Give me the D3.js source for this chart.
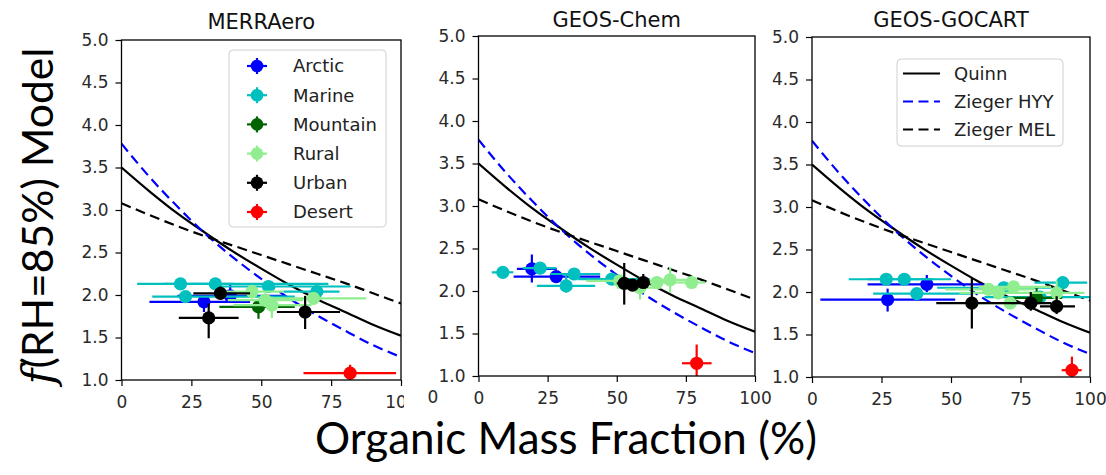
<!DOCTYPE html>
<html>
<head>
<meta charset="utf-8">
<script src="https://cdn.jsdelivr.net/npm/d3@7"></script>
<style>
  body { margin: 0; background: #fff; }
  svg { display: block; font-family: "DejaVu Sans", sans-serif; }
</style>
</head>
<body>
<svg id="chart" width="1106" height="475"></svg>
<script>
// ---- data ----
var categories = ["Arctic", "Marine", "Mountain", "Rural", "Urban", "Desert"];
var catColors = ["#0000ff", "#00bfbf", "#006400", "#90ee90", "#000000", "#ff0000"];

var xTicks = [0, 25, 50, 75, 100];
var yTicks = [1.0, 1.5, 2.0, 2.5, 3.0, 3.5, 4.0, 4.5, 5.0];

// parameterisation curves, read at every 10 % organic fraction
var omfGrid   = [0, 10, 20, 30, 40, 50, 60, 70, 80, 90, 100];
var quinn     = [3.50, 3.22, 2.96, 2.73, 2.51, 2.31, 2.12, 1.95, 1.80, 1.65, 1.52];
var ziegerHYY = [3.78, 3.39, 3.04, 2.72, 2.44, 2.19, 1.96, 1.76, 1.58, 1.41, 1.27];
var ziegerMEL = [3.08, 2.94, 2.81, 2.69, 2.58, 2.47, 2.36, 2.25, 2.14, 2.02, 1.90];
var fitNames  = ["Quinn", "Zieger HYY", "Zieger MEL"];

// [category, omf, f, omf low, omf high, f low, f high]
var merraeroPts = [
  ["Arctic", 29.5, 1.92, 10, 46, 1.80, 2.00],
  ["Arctic", 38.9, 1.99, 20, 58, 1.93, 2.12],
  ["Marine", 21.1, 2.13, 5.6, 40, 2.06, 2.20],
  ["Marine", 22.9, 1.98, 11, 62, 1.93, 2.03],
  ["Marine", 33.6, 2.13, 15, 74, 2.08, 2.18],
  ["Marine", 52.6, 2.10, 35, 82, 2.03, 2.17],
  ["Marine", 69.9, 2.04, 58, 78, 1.98, 2.10],
  ["Mountain", 49.0, 1.86, 35, 62, 1.72, 1.93],
  ["Rural", 46.7, 2.04, 35, 58, 1.96, 2.12],
  ["Rural", 51.4, 1.94, 38, 65, 1.86, 2.02],
  ["Rural", 53.8, 1.88, 40, 68, 1.73, 1.98],
  ["Rural", 68.7, 1.96, 49, 87.5, 1.90, 2.02],
  ["Urban", 35.4, 2.02, 25.7, 46, 1.95, 2.10],
  ["Urban", 31.2, 1.73, 20.5, 41.9, 1.49, 1.90],
  ["Urban", 65.7, 1.80, 55.6, 78.2, 1.60, 1.99],
  ["Desert", 81.8, 1.08, 65.1, 98.2, 0.98, 1.18]
];

var geosChemPts = [
  ["Arctic", 19.3, 2.26, 13.9, 28.3, 2.10, 2.43],
  ["Arctic", 28.1, 2.17, 12.7, 44, 2.12, 2.22],
  ["Marine", 8.8, 2.22, 4.8, 12.6, 2.18, 2.26],
  ["Marine", 22.3, 2.27, 16, 28, 2.20, 2.33],
  ["Marine", 31.7, 2.06, 21.1, 42.2, 1.98, 2.20],
  ["Marine", 34.6, 2.20, 26, 44, 2.14, 2.26],
  ["Marine", 48.2, 2.14, 36, 62, 2.08, 2.20],
  ["Rural", 51.0, 2.12, 39, 68, 2.06, 2.18],
  ["Rural", 58.4, 2.04, 50, 66, 1.90, 2.17],
  ["Rural", 64.5, 2.10, 58, 72, 2.05, 2.15],
  ["Rural", 69.3, 2.13, 63, 76, 1.98, 2.28],
  ["Rural", 77.1, 2.10, 72, 82, 2.04, 2.18],
  ["Urban", 52.7, 2.09, 50, 56, 1.84, 2.33],
  ["Urban", 55.7, 2.07, 53, 58, 2.02, 2.12],
  ["Urban", 59.6, 2.10, 57, 62, 2.04, 2.20],
  ["Desert", 78.9, 1.15, 73.6, 84.3, 0.98, 1.37]
];

var gocartPts = [
  ["Arctic", 27.2, 1.91, 3, 51.5, 1.77, 2.04],
  ["Arctic", 41.3, 2.09, 20, 61.7, 2.00, 2.20],
  ["Marine", 26.7, 2.15, 13.2, 43.7, 2.10, 2.20],
  ["Marine", 33.2, 2.15, 20, 50, 2.10, 2.20],
  ["Marine", 37.7, 1.98, 22, 58, 1.92, 2.04],
  ["Marine", 69.0, 2.05, 45, 86, 2.00, 2.12],
  ["Marine", 82.0, 1.94, 62, 100, 1.90, 1.98],
  ["Marine", 90.2, 2.11, 80, 99, 2.06, 2.16],
  ["Mountain", 80.8, 1.93, 70, 90, 1.85, 2.05],
  ["Rural", 63.5, 2.03, 48, 80, 1.97, 2.09],
  ["Rural", 67.1, 1.99, 53, 82, 1.93, 2.05],
  ["Rural", 71.3, 1.87, 60, 84, 1.80, 1.94],
  ["Rural", 72.5, 2.06, 60, 86, 2.00, 2.12],
  ["Rural", 88.0, 1.99, 76, 98, 1.90, 2.13],
  ["Urban", 57.5, 1.87, 44.7, 72.4, 1.57, 2.16],
  ["Urban", 78.7, 1.87, 72, 86, 1.78, 2.00],
  ["Urban", 88.0, 1.83, 82, 94.6, 1.74, 1.95],
  ["Desert", 93.5, 1.08, 89.8, 97, 0.98, 1.24]
];

// ---- layout ----
var svg = d3.select("#chart");
var color = d3.scaleOrdinal().domain(categories).range(catColors);

var panels = [
  {title: "MERRAero", pts: merraeroPts, left: 121.5, right: 401, top: 40, bottom: 380, titleY: 28.5, legend: "sites", clipRight: 404},
  {title: "GEOS-Chem", pts: geosChemPts, left: 478.5, right: 755, top: 36, bottom: 376, titleY: 26.5},
  {title: "GEOS-GOCART", pts: gocartPts, left: 812, right: 1090, top: 37, bottom: 377, titleY: 26.5, legend: "fits"}
];

var defs = svg.append("defs");

panels.forEach(function(p, i) {
  var g = svg.append("g");
  if (p.clipRight) {
    defs.append("clipPath").attr("id", "pclip" + i)
      .append("rect").attr("x", 0).attr("y", 0).attr("width", p.clipRight).attr("height", 475);
    g.attr("clip-path", "url(#pclip" + i + ")");
  }
  defs.append("clipPath").attr("id", "aclip" + i)
    .append("rect").attr("x", p.left).attr("y", p.top)
    .attr("width", p.right - p.left).attr("height", p.bottom - p.top);

  var x = d3.scaleLinear().domain([0, 100]).range([p.left, p.right]);
  var y = d3.scaleLinear().domain([1, 5]).range([p.bottom, p.top]);

  var plot = g.append("g").attr("clip-path", "url(#aclip" + i + ")");

  // fit curves
  var line = d3.line()
    .x(function(d, k) { return x(omfGrid[k]); })
    .y(function(d) { return y(d); })
    .curve(d3.curveMonotoneX);
  var fits = [
    {vals: quinn, stroke: "#000", dash: null},
    {vals: ziegerHYY, stroke: "#0000ff", dash: "10,5.5"},
    {vals: ziegerMEL, stroke: "#000", dash: "10,5.5"}
  ];
  fits.forEach(function(f) {
    plot.append("path").attr("d", line(f.vals))
      .attr("fill", "none").attr("stroke", f.stroke).attr("stroke-width", 2.2)
      .attr("stroke-dasharray", f.dash);
  });

  // error bars + markers, one category after the other
  categories.forEach(function(cat) {
    var rows = p.pts.filter(function(r) { return r[0] === cat; });
    var c = color(cat);
    rows.forEach(function(r) {
      plot.append("line").attr("x1", x(r[3])).attr("x2", x(r[4]))
        .attr("y1", y(r[2])).attr("y2", y(r[2]))
        .attr("stroke", c).attr("stroke-width", 2.2);
      plot.append("line").attr("x1", x(r[1])).attr("x2", x(r[1]))
        .attr("y1", y(r[5])).attr("y2", y(r[6]))
        .attr("stroke", c).attr("stroke-width", 2.2);
    });
    plot.selectAll(null).data(rows).enter().append("circle")
      .attr("cx", function(r) { return x(r[1]); })
      .attr("cy", function(r) { return y(r[2]); })
      .attr("r", 6.6)
      .attr("fill", c);
  });

  // axes
  var ax = g.append("g").attr("transform", "translate(0," + p.bottom + ")")
    .call(d3.axisBottom(x).tickValues(xTicks).tickFormat(d3.format("d")).tickSize(6).tickPadding(10));
  var ay = g.append("g").attr("transform", "translate(" + p.left + ",0)")
    .call(d3.axisLeft(y).tickValues(yTicks).tickFormat(d3.format(".1f")).tickSize(6).tickPadding(7));
  [ax, ay].forEach(function(a) {
    a.select(".domain").remove();
    a.selectAll("line").attr("stroke", "#000").attr("stroke-width", 1.2);
    a.selectAll("text").attr("font-size", 17).attr("fill", "#2a2a2a")
      .style("font-family", "'DejaVu Sans', sans-serif");
  });

  g.append("rect").attr("x", p.left).attr("y", p.top)
    .attr("width", p.right - p.left).attr("height", p.bottom - p.top)
    .attr("fill", "none").attr("stroke", "#000").attr("stroke-width", 1.3);

  g.append("text").attr("x", (p.left + p.right) / 2).attr("y", p.titleY)
    .attr("text-anchor", "middle").attr("font-size", 21).attr("fill", "#111")
    .text(p.title);

  // legends
  if (p.legend === "sites") {
    var lg = g.append("g");
    lg.append("rect").attr("x", 229).attr("y", 50).attr("width", 157).attr("height", 177)
      .attr("rx", 4).attr("fill", "#fff").attr("fill-opacity", 0.85)
      .attr("stroke", "#d0d0d0").attr("stroke-width", 1);
    categories.forEach(function(cat, k) {
      var cy = 66 + k * 29.2, cx = 257;
      var c = color(cat);
      lg.append("line").attr("x1", cx - 10).attr("x2", cx + 10).attr("y1", cy).attr("y2", cy)
        .attr("stroke", c).attr("stroke-width", 2.2);
      lg.append("line").attr("x1", cx).attr("x2", cx).attr("y1", cy - 8).attr("y2", cy + 8)
        .attr("stroke", c).attr("stroke-width", 2.2);
      lg.append("circle").attr("cx", cx).attr("cy", cy).attr("r", 6.3).attr("fill", c);
      lg.append("text").attr("x", 293).attr("y", cy).attr("dy", "0.36em")
        .attr("font-size", 18).attr("fill", "#222").text(cat);
    });
  }
  if (p.legend === "fits") {
    var lf = g.append("g");
    lf.append("rect").attr("x", 897).attr("y", 59).attr("width", 166).attr("height", 87)
      .attr("rx", 4).attr("fill", "#fff").attr("fill-opacity", 0.85)
      .attr("stroke", "#d0d0d0").attr("stroke-width", 1);
    fits.forEach(function(f, k) {
      var cy = 73.5 + k * 28;
      lf.append("line").attr("x1", 903).attr("x2", 940).attr("y1", cy).attr("y2", cy)
        .attr("stroke", f.stroke).attr("stroke-width", 2.2).attr("stroke-dasharray", f.dash);
      lf.append("text").attr("x", 954).attr("y", cy).attr("dy", "0.36em")
        .attr("font-size", 18).attr("fill", "#222").text(fitNames[k]);
    });
  }
});

// stray tick-label digit left over between the first two panels
svg.append("text").attr("x", 433).attr("y", 403).attr("text-anchor", "middle")
  .attr("font-size", 17).attr("fill", "#2a2a2a").text("0");

// shared axis titles, sized to the reference widths
function fitText(t, target) {
  var w = t.node().getComputedTextLength();
  var fs = parseFloat(t.attr("font-size"));
  t.attr("font-size", fs * target / w);
}
var xt = svg.append("text").attr("x", 566).attr("y", 454).attr("text-anchor", "middle")
  .style("font-family", "Lato, 'Open Sans', sans-serif").attr("font-size", 40).attr("fill", "#000")
  .text("Organic Mass Fraction (%)");
fitText(xt, 502);

var yt = svg.append("text").attr("transform", "translate(53,216) rotate(-90)")
  .attr("text-anchor", "middle")
  .style("font-family", "Lato, 'Open Sans', sans-serif").attr("font-size", 40).attr("fill", "#000");
yt.append("tspan").style("font-family", "'DejaVu Serif', serif").attr("font-style", "italic").text("f");
yt.append("tspan").text("(RH=85%) Model");
fitText(yt, 337);
</script>
</body>
</html>
